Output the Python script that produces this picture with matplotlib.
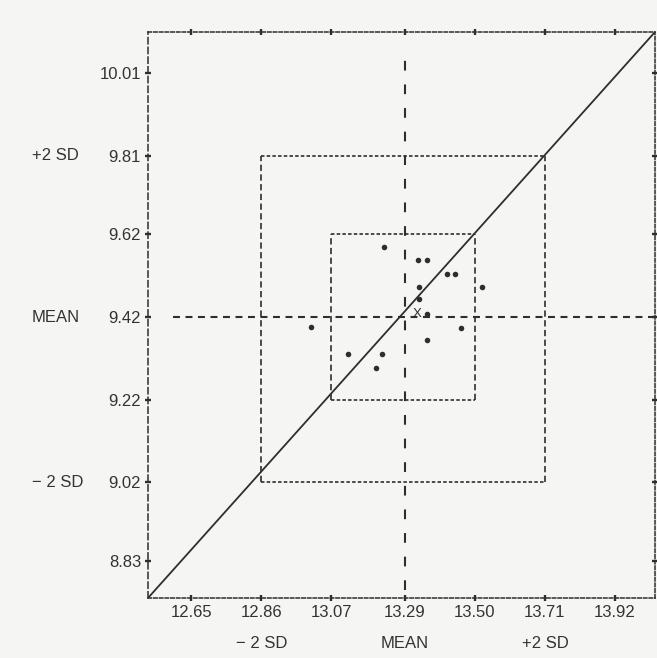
import matplotlib
matplotlib.use("Agg")
import matplotlib.pyplot as plt
import matplotlib.transforms as mtransforms

plt.rcParams['font.family'] = ['Liberation Sans', 'DejaVu Sans']
plt.rcParams['lines.scale_dashes'] = False

# tick values printed on the chart (mean +/- 1, 2, 3 SD)
x_ticks = [12.65, 12.86, 13.07, 13.29, 13.50, 13.71, 13.92]
y_ticks = [8.83, 9.02, 9.22, 9.42, 9.62, 9.81, 10.01]
x_mean, y_mean = 13.29, 9.42
x_sd1 = (13.07, 13.50)
y_sd1 = (9.22, 9.62)
x_sd2 = (12.86, 13.71)
y_sd2 = (9.02, 9.81)
x_lim = (12.52, 14.04)
y_lim = (8.74, 10.11)

# laboratory results (sample A on x, sample B on y)
lab_x = [13.227, 13.329, 13.355, 13.415, 13.440, 13.332, 13.521, 13.331,
         13.355, 13.010, 13.458, 13.355, 13.119, 13.222, 13.205]
lab_y = [9.589, 9.557, 9.557, 9.525, 9.525, 9.493, 9.493, 9.464,
         9.428, 9.396, 9.394, 9.364, 9.330, 9.330, 9.296]
target_x, target_y = 13.326, 9.427

ink = '#2e2e2e'
txt = '#333333'
bg = '#f5f5f3'
short_dash = (0, (2.5, 1.6))
long_dash = (0, (4.5, 2.5))

fig = plt.figure(figsize=(6.57, 6.58), dpi=100, facecolor=bg)
ax = fig.add_axes([148 / 657, 60 / 658, 507 / 657, 566 / 658])
ax.set_facecolor(bg)

ax.set_xlim(*x_lim)
ax.set_ylim(*y_lim)

for side in ['top', 'bottom', 'right']:
    ax.spines[side].set_linestyle(short_dash)
    ax.spines[side].set_linewidth(1.1)
    ax.spines[side].set_color(ink)
ax.spines['left'].set_linestyle(long_dash)
ax.spines['left'].set_linewidth(1.1)
ax.spines['left'].set_color(ink)

ax.set_xticks(x_ticks)
ax.set_xticklabels(['%.2f' % v for v in x_ticks])
ax.set_yticks(y_ticks)
ax.set_yticklabels(['%.2f' % v for v in y_ticks])
ax.tick_params(direction='inout', length=4, width=1.7, color=ink,
               labelsize=12, labelcolor=txt, top=True, right=True,
               pad=3)

# mean lines
ax.axvline(x_mean, ymin=0.015, ymax=0.97, color=ink, lw=1.5,
           linestyle=(0, (7, 10)))
ax.axhline(y_mean, xmin=0.05, xmax=1.0, color=ink, lw=1.5,
           linestyle=(0, (5, 4)))

# +/- 1 SD and +/- 2 SD boxes
for (x0, x1), (y0, y1) in [(x_sd1, y_sd1), (x_sd2, y_sd2)]:
    ax.plot([x0, x1], [y0, y0], color=ink, lw=1.2, linestyle=short_dash)
    ax.plot([x0, x1], [y1, y1], color=ink, lw=1.2, linestyle=short_dash)
    ax.plot([x0, x0], [y0, y1], color=ink, lw=1.2, linestyle=long_dash)
    ax.plot([x1, x1], [y0, y1], color=ink, lw=1.2, linestyle=long_dash)

# 45 degree line through the corners
ax.plot([0, 1], [0, 1], transform=ax.transAxes, color=ink, lw=1.3)

ax.plot(lab_x, lab_y, 'o', color=ink, markersize=4, markeredgewidth=0)
ax.text(target_x, target_y, 'X', ha='center', va='center', fontsize=9.5,
        color=ink)

# SD annotations
left_tr = mtransforms.blended_transform_factory(fig.transFigure, ax.transData)
for val, lab in [(y_sd2[1], '+2 SD'), (y_mean, 'MEAN'), (y_sd2[0], '\u2212 2 SD')]:
    ax.text(32 / 657, val, lab, transform=left_tr, ha='left', va='center',
            fontsize=12, color=txt)
bottom_tr = mtransforms.blended_transform_factory(ax.transData, fig.transFigure)
for val, lab in [(x_sd2[0], '\u2212 2 SD'), (x_mean, 'MEAN'), (x_sd2[1], '+2 SD')]:
    ax.text(val, 1 - 643 / 658, lab, transform=bottom_tr, ha='center',
            va='center', fontsize=12, color=txt)

fig.savefig('out.png', dpi=100, facecolor=bg)
